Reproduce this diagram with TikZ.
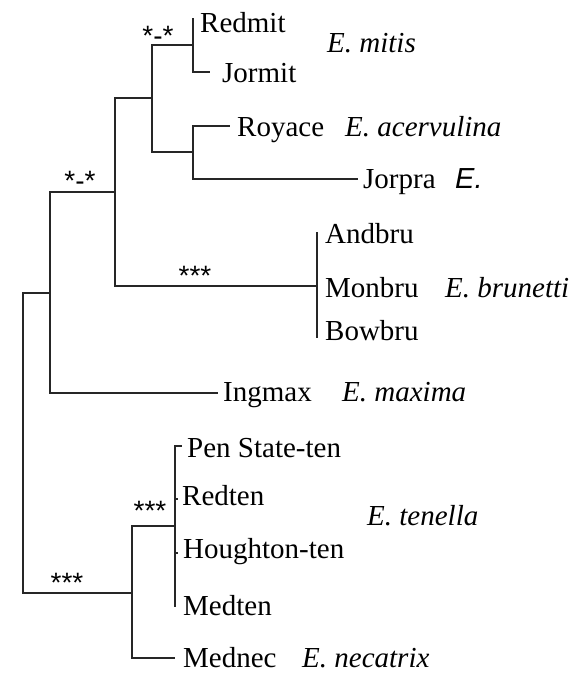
\documentclass[tikz,border=0pt]{standalone}
\usepackage{fontspec}
\setmainfont{Liberation Serif}
\newfontfamily\astfont{Liberation Sans}
\begin{document}
\begin{tikzpicture}[x=1pt,y=-1pt,
  br/.style={draw=black!85, line width=1.2pt},
  lab/.style={anchor=base west, inner sep=0pt, font=\fontsize{29}{32}\selectfont},
  spc/.style={anchor=base west, inner sep=0pt, font=\fontsize{29}{32}\selectfont\itshape},
  supp/.style={anchor=base, inner sep=0pt, font=\astfont\fontsize{28}{30}\selectfont}]
\useasboundingbox (0,0) rectangle (584,673);
% internal nodes
\coordinate (nRoot) at (23,443);
\coordinate (nUp) at (50,293);
\coordinate (nBig) at (115,192);
\coordinate (nAB) at (152,98);
\coordinate (nA) at (193,45);
\coordinate (nB) at (193,152);
\coordinate (nBru) at (317,286);
\coordinate (nTN) at (132,593);
\coordinate (nTen) at (175,526);
% leaf tips
\coordinate (tRedmit) at (193,18);
\coordinate (tJormit) at (210,72);
\coordinate (tRoyace) at (230,126);
\coordinate (tJorpra) at (358,179);
\coordinate (tAnd) at (317,232);
\coordinate (tBow) at (317,338);
\coordinate (tIng) at (218,393);
\coordinate (tPen) at (182,446);
\coordinate (tRedten) at (178,499);
\coordinate (tHou) at (178,553);
\coordinate (tMed) at (175,607);
\coordinate (tMednec) at (175,658);
% branches
\draw[br] (nRoot) |- (nUp);
\draw[br] (nRoot) |- (nTN);
\draw[br] (nUp) |- (nBig);
\draw[br] (nUp) |- (tIng);
\draw[br] (nBig) |- (nAB);
\draw[br] (nBig) |- (nBru);
\draw[br] (nAB) |- (nA);
\draw[br] (nAB) |- (nB);
\draw[br] (nA) -- (tRedmit);
\draw[br] (nA) |- (tJormit);
\draw[br] (nB) |- (tRoyace);
\draw[br] (nB) |- (tJorpra);
\draw[br] (nBru) -- (tAnd);
\draw[br] (nBru) -- (tBow);
\draw[br] (nTN) |- (nTen);
\draw[br] (nTN) |- (tMednec);
\draw[br] (nTen) |- (tPen);
\draw[br] (nTen) |- (tRedten);
\draw[br] (nTen) |- (tHou);
\draw[br] (nTen) -- (tMed);
% leaf labels
\node[lab] (lRedmit) at (200,32) {Redmit};
\node[lab] (lJormit) at (222,82) {Jormit};
\node[lab] (lRoyace) at (237,136) {Royace};
\node[lab] (lJorpra) at (363,188) {Jorpra};
\node[lab] (lAnd) at (325,243) {Andbru};
\node[lab] (lMon) at (325,297) {Monbru};
\node[lab] (lBow) at (325,340) {Bowbru};
\node[lab] (lIng) at (223,401) {Ingmax};
\node[lab] (lPen) at (187,457) {Pen State-ten};
\node[lab] (lRedten) at (182,505) {Redten};
\node[lab] (lHou) at (183,558) {Houghton-ten};
\node[lab] (lMed) at (183,615) {Medten};
\node[lab] (lMednec) at (183,667) {Mednec};
% species labels
\node[spc] (sMitis) at (327,52) {E. mitis};
\node[spc] (sAcer) at (345,136) {E. acervulina};
\node[anchor=base west, inner sep=0pt, font=\astfont\fontsize{29}{32}\selectfont\itshape] (sE) at (455,188) {E.};
\node[spc] (sBru) at (445,297) {E. brunetti};
\node[spc] (sMax) at (342,401) {E. maxima};
\node[spc] (sTen) at (367,525) {E. tenella};
\node[spc] (sNec) at (302,667) {E. necatrix};
% support values
\node[supp] (b1) at (158,45) {*-*};
\node[supp] (b2) at (80,190) {*-*};
\node[supp] (b3) at (195,285) {***};
\node[supp] (b4) at (150,520) {***};
\node[supp] (b5) at (67,592) {***};
\end{tikzpicture}
\end{document}
